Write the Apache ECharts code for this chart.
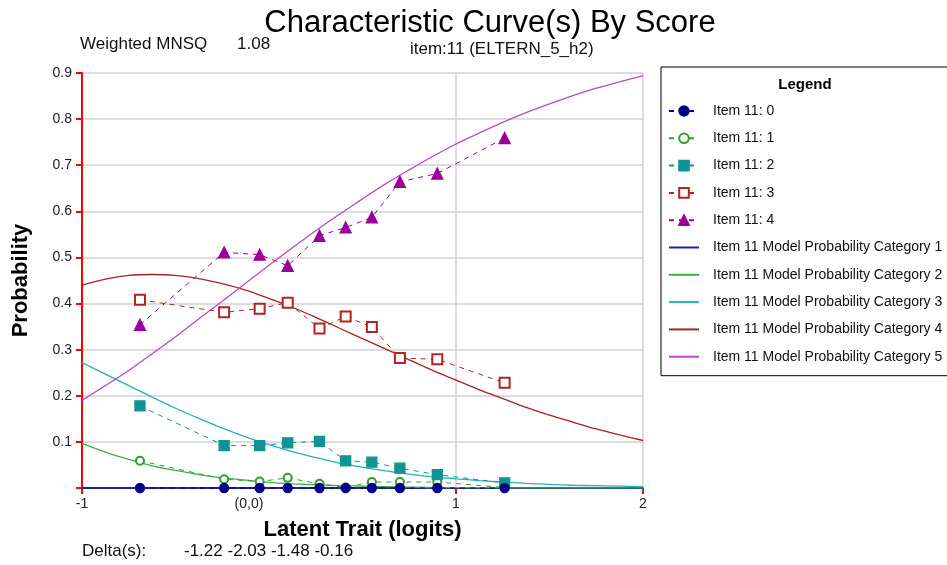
<!DOCTYPE html>
<html>
<head>
<meta charset="utf-8">
<script src="https://cdn.jsdelivr.net/npm/echarts@6/dist/echarts.min.js"></script>
<style>html,body{margin:0;padding:0;background:#fff;}#c{width:947px;height:565px;}</style>
</head>
<body>
<div id="c"></div>
<script>
// Observed points (latent trait positions and proportions per score)
var obsX = [-0.69, -0.24, -0.05, 0.10, 0.27, 0.41, 0.55, 0.70, 0.90, 1.26];
var obs0 = [0, 0, 0, 0, 0, 0, 0, 0, 0, 0];
var obs1 = [0.059, 0.019, 0.014, 0.022, 0.009, 0.001, 0.013, 0.013, 0.013, 0.001];
var obs2 = [0.178, 0.092, 0.092, 0.098, 0.101, 0.059, 0.056, 0.043, 0.029, 0.011];
var obs3 = [0.408, 0.381, 0.389, 0.402, 0.346, 0.372, 0.349, 0.282, 0.279, 0.228];
var obs4 = [0.354, 0.511, 0.506, 0.482, 0.547, 0.565, 0.587, 0.664, 0.682, 0.759];

// Model probability curves read at these latent trait values
var modelX = [-1, -0.875, -0.75, -0.625, -0.5, -0.375, -0.25, -0.125, 0, 0.125, 0.25, 0.375, 0.5,
  0.625, 0.75, 0.875, 1, 1.125, 1.25, 1.375, 1.5, 1.625, 1.75, 1.875, 2];
var model1 = [0, 0, 0, 0, 0, 0, 0, 0, 0, 0, 0, 0, 0, 0, 0, 0, 0, 0, 0, 0, 0, 0, 0, 0, 0];
var model2 = [0.097, 0.078, 0.062, 0.048, 0.038, 0.029, 0.022, 0.017, 0.012, 0.009, 0.007, 0.005, 0.004,
  0.003, 0.002, 0.001, 0.001, 0.001, 0.0005, 0.0003, 0.0002, 0.0002, 0.0001, 0.0001, 0.0001];
var model3 = [0.272, 0.247, 0.222, 0.197, 0.173, 0.151, 0.130, 0.111, 0.094, 0.079, 0.066, 0.054, 0.045,
  0.037, 0.030, 0.024, 0.020, 0.016, 0.013, 0.010, 0.008, 0.006, 0.005, 0.004, 0.003];
var model4 = [0.440, 0.453, 0.461, 0.463, 0.461, 0.454, 0.443, 0.429, 0.411, 0.392, 0.370, 0.347, 0.324,
  0.301, 0.278, 0.255, 0.234, 0.213, 0.194, 0.175, 0.158, 0.143, 0.128, 0.115, 0.103];
var model5 = [0.190, 0.222, 0.255, 0.291, 0.328, 0.367, 0.405, 0.444, 0.483, 0.521, 0.558, 0.593, 0.627,
  0.660, 0.690, 0.719, 0.746, 0.770, 0.793, 0.814, 0.833, 0.851, 0.867, 0.881, 0.894];

var obsNames = ['Item 11: 0', 'Item 11: 1', 'Item 11: 2', 'Item 11: 3', 'Item 11: 4'];
var modelNames = ['Item 11 Model Probability Category 1', 'Item 11 Model Probability Category 2',
  'Item 11 Model Probability Category 3', 'Item 11 Model Probability Category 4',
  'Item 11 Model Probability Category 5'];
var xTickLabels = {'-1': '-1', '0': '(0,0)', '1': '1', '2': '2'};
var xTickMarks = [-1, 1, 2];

function pairs(xs, ys) { return xs.map(function (x, i) { return [x, ys[i]]; }); }

var FONT = '"Liberation Sans", Arial, sans-serif';
var obsStyle = [
  {c: '#00008b', sym: 'circle', size: 9},
  {c: '#2e9e2e', sym: 'emptyCircle', size: 8},
  {c: '#0e9494', sym: 'rect', size: 10},
  {c: '#b22222', sym: 'emptyRect', size: 10},
  {c: '#990099', sym: 'triangle', size: 11}
];
var modelColors = ['#2020a0', '#3cb03c', '#22b4b4', '#a82222', '#b848c8'];
var obsData = [obs0, obs1, obs2, obs3, obs4];
var modelData = [model1, model2, model3, model4, model5];

var series = [];
modelData.forEach(function (d, i) {
  series.push({
    name: modelNames[i], type: 'line', data: pairs(modelX, d), smooth: 0.3,
    symbol: 'none', z: 2, clip: false,
    lineStyle: {color: modelColors[i], width: i === 0 ? 2 : 1.3},
    itemStyle: {color: modelColors[i]}
  });
});
obsData.forEach(function (d, i) {
  var s = obsStyle[i];
  series.push({
    name: obsNames[i], type: 'line', data: pairs(obsX, d), symbol: s.sym, symbolSize: s.size,
    showAllSymbol: true, z: 3 + (i === 0 ? 2 : 0), clip: false,
    lineStyle: {color: s.c, width: 1, type: [5, 5]},
    itemStyle: {color: s.c, borderColor: s.c, borderWidth: 1.3}
  });
});

var legendData = obsNames.map(function (n) { return {name: n}; }).concat(
  modelNames.map(function (n) { return {name: n, itemStyle: {opacity: 0}}; }));

var chart = echarts.init(document.getElementById('c'), null, {renderer: 'canvas'});
chart.setOption({
  animation: false,
  backgroundColor: '#fff',
  title: [
    {text: 'Characteristic Curve(s) By Score', left: 490, textAlign: 'center', top: 8, padding: 0,
      textStyle: {fontFamily: FONT, fontSize: 31, fontWeight: 'normal', color: '#000'}},
    {text: 'Weighted MNSQ', left: 80, top: 36, padding: 0,
      textStyle: {fontFamily: FONT, fontSize: 17, fontWeight: 'normal', color: '#111'}},
    {text: '1.08', left: 237, top: 36, padding: 0,
      textStyle: {fontFamily: FONT, fontSize: 17, fontWeight: 'normal', color: '#111'}},
    {text: 'item:11 (ELTERN_5_h2)', left: 410, top: 41, padding: 0,
      textStyle: {fontFamily: FONT, fontSize: 17, fontWeight: 'normal', color: '#111'}},
    {text: 'Delta(s):', left: 82, top: 543, padding: 0,
      textStyle: {fontFamily: FONT, fontSize: 17, fontWeight: 'normal', color: '#111'}},
    {text: '-1.22 -2.03 -1.48 -0.16', left: 184, top: 543, padding: 0,
      textStyle: {fontFamily: FONT, fontSize: 17, fontWeight: 'normal', color: '#111'}},
    {text: 'Legend', left: 805, textAlign: 'center', top: 77, padding: 0,
      textStyle: {fontFamily: FONT, fontSize: 15, fontWeight: 'bold', color: '#000'}}
  ],
  grid: {left: 82, right: 304, top: 73, bottom: 77, containLabel: false},
  xAxis: {
    type: 'value', min: -1, max: 2, interval: 1,
    name: 'Latent Trait (logits)', nameLocation: 'middle', nameGap: 31,
    nameTextStyle: {fontFamily: FONT, fontSize: 22, fontWeight: 'bold', color: '#000'},
    axisLine: {show: true, onZero: false, lineStyle: {color: '#ff0000', width: 2}},
    axisTick: {show: true, length: 6, customValues: xTickMarks, lineStyle: {color: '#ff0000', width: 2}},
    axisLabel: {
      fontFamily: FONT, fontSize: 14, color: '#222', margin: 9,
      formatter: function (v) {
        var k = String(Math.round(v));
        return k === '0' ? '{z|' + xTickLabels[k] + '}' : xTickLabels[k];
      },
      rich: {z: {fontFamily: FONT, fontSize: 14, color: '#222', padding: [0, 40, 0, 0]}}
    },
    splitLine: {show: true, lineStyle: {color: '#d2d2d2', width: 1.5}}
  },
  yAxis: {
    type: 'value', min: 0, max: 0.9, interval: 0.1,
    name: 'Probability', nameLocation: 'middle', nameGap: 50,
    nameTextStyle: {fontFamily: FONT, fontSize: 22, fontWeight: 'bold', color: '#000'},
    axisLine: {show: true, onZero: false, lineStyle: {color: '#ff0000', width: 2}},
    axisTick: {show: true, length: 6, lineStyle: {color: '#ff0000', width: 2}},
    axisLabel: {
      fontFamily: FONT, fontSize: 14, color: '#222', margin: 10,
      formatter: function (v) { return v < 0.05 ? '' : v.toFixed(1); }
    },
    splitLine: {show: true, lineStyle: {color: '#d2d2d2', width: 1.5}}
  },
  legend: {
    orient: 'vertical', left: 661, top: 67,
    data: legendData,
    borderColor: '#000', borderWidth: 1, padding: [37, 12, 12, 7],
    itemWidth: 30, itemHeight: 12, itemGap: 13.3,
    textStyle: {fontFamily: FONT, fontSize: 14, color: '#111', lineHeight: 14, padding: [0, 0, 0, 9]}
  },
  series: series
});
</script>
</body>
</html>
